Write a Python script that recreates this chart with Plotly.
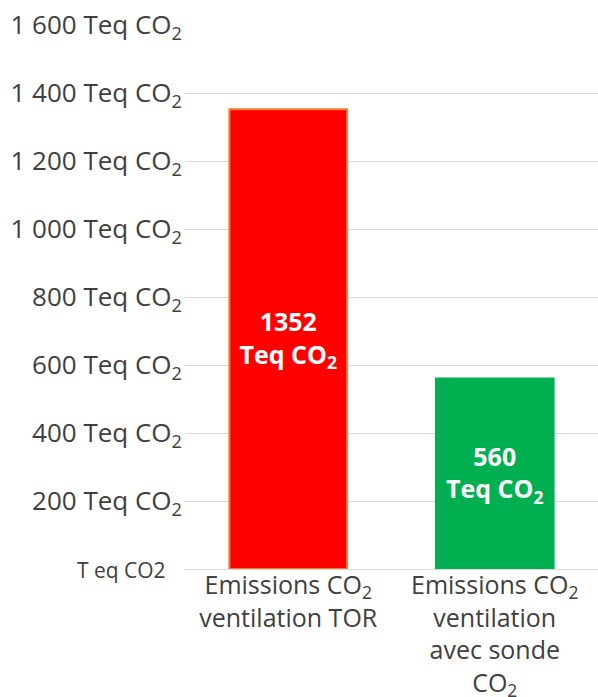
import plotly.graph_objects as go

categories = ["Emissions CO<sub>2</sub><br>ventilation TOR",
              "Emissions CO<sub>2</sub><br>ventilation<br>avec sonde<br>CO<sub>2</sub>"]
values = [1352, 560]
bar_labels = ["<b>1352<br>Teq CO<sub>2</sub></b>", "<b>560<br>Teq CO<sub>2</sub></b>"]
fill_colors = ["#FF0000", "#00B050"]
line_colors = ["#ED7D31", "#00B050"]
tick_vals = [0, 200, 400, 600, 800, 1000, 1200, 1400, 1600]
tick_text = ['<span style="font-size:21px">T eq CO2&nbsp;&nbsp;&nbsp;</span>',
             "200 Teq CO<sub>2</sub>", "400 Teq CO<sub>2</sub>", "600 Teq CO<sub>2</sub>",
             "800 Teq CO<sub>2</sub>", "1 000 Teq CO<sub>2</sub>", "1 200 Teq CO<sub>2</sub>",
             "1 400 Teq CO<sub>2</sub>", "1 600 Teq CO<sub>2</sub>"]

FONT = "Open Sans"

fig = go.Figure(go.Bar(
    x=categories, y=values,
    marker=dict(color=fill_colors, line=dict(color=line_colors, width=2)),
    text=bar_labels, textposition="inside", insidetextanchor="middle",
    textfont=dict(family=FONT, size=25, color="white"),
    width=0.57, cliponaxis=False,
))

fig.update_layout(
    width=598, height=697,
    margin=dict(l=185, r=0, t=25, b=128),
    paper_bgcolor="white", plot_bgcolor="white",
    font=dict(family=FONT, size=25, color="#404040"),
    showlegend=False,
    uniformtext=dict(minsize=8, mode=False),
)
fig.update_yaxes(range=[0, 1600], tickvals=tick_vals, ticktext=tick_text,
                 showgrid=True, gridcolor="#D9D9D9", gridwidth=1,
                 zeroline=False, showline=False, ticks="",
                 tickfont=dict(family=FONT, size=26, color="#404040"),
                 ticklabelstandoff=2, automargin=False)
fig.update_xaxes(showline=True, linecolor="#D9D9D9", linewidth=1,
                 ticks="", showgrid=False, automargin=False,
                 ticklabelstandoff=-6,
                 tickfont=dict(family=FONT, size=25, color="#404040"))

fig.write_html("out.html")
